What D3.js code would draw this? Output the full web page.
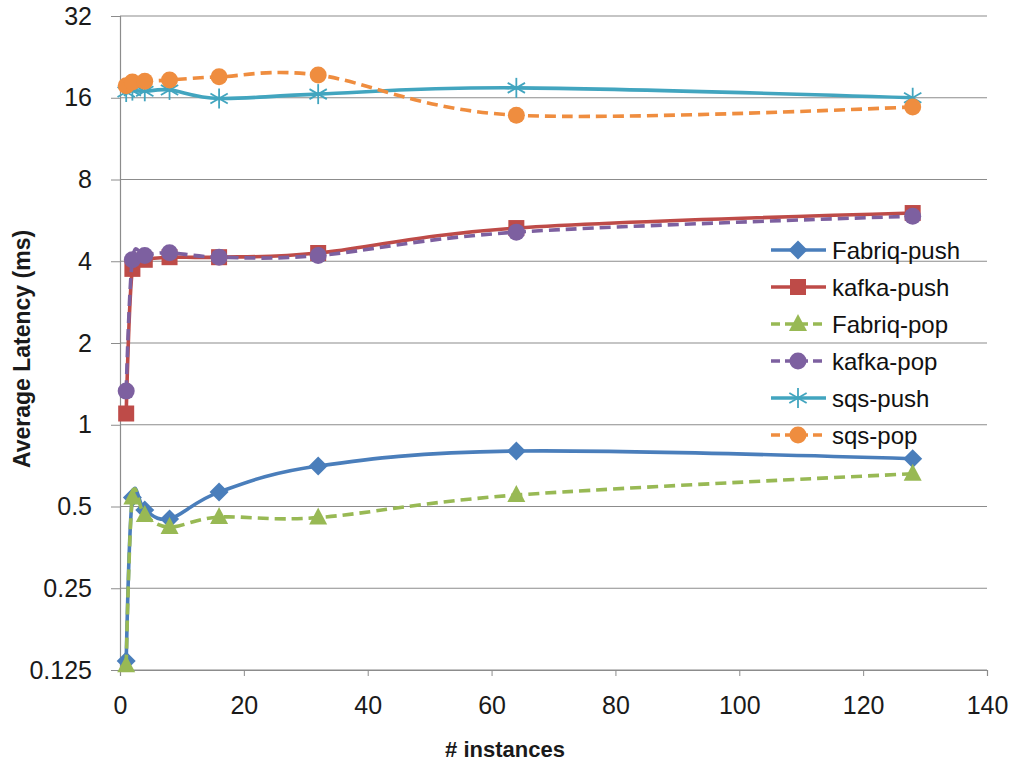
<!DOCTYPE html>
<html><head><meta charset="utf-8">
<script src="https://cdn.jsdelivr.net/npm/d3@7"></script>
<style>body{margin:0;background:#fff}svg{display:block}</style>
</head><body>
<svg id="c" width="1011" height="767"></svg>
<script>
const instances = [1, 2, 4, 8, 16, 32, 64, 128];
const fabriqPush = [0.135, 0.54, 0.485, 0.45, 0.565, 0.705, 0.80, 0.75];
const kafkaPush  = [1.1, 3.75, 4.05, 4.14, 4.14, 4.29, 5.3, 6.02];
const fabriqPop  = [0.13, 0.54, 0.465, 0.42, 0.457, 0.455, 0.551, 0.66];
const kafkaPop   = [1.33, 4.05, 4.2, 4.3, 4.14, 4.2, 5.12, 5.86];
const sqsPush    = [16.8, 17.0, 16.9, 17.1, 15.9, 16.5, 17.4, 16.0];
const sqsPop     = [17.7, 18.3, 18.4, 18.6, 19.1, 19.4, 13.8, 14.8];
const seriesNames = ["Fabriq-push", "kafka-push", "Fabriq-pop", "kafka-pop", "sqs-push", "sqs-pop"];
const xTicks = [0, 20, 40, 60, 80, 100, 120, 140];
const yTicks = [0.125, 0.25, 0.5, 1, 2, 4, 8, 16, 32];
const yTickLabels = ["0.125", "0.25", "0.5", "1", "2", "4", "8", "16", "32"];

const seriesValues = [fabriqPush, kafkaPush, fabriqPop, kafkaPop, sqsPush, sqsPop];
const colors = ["#4A7EBB", "#BE4B48", "#98B954", "#7D60A0", "#42A5BF", "#EF8D3F"];
const markers = ["diamond", "square", "triangle", "circle", "star", "circle"];
const dashed = [false, false, true, true, false, true];

const svg = d3.select("#c");
const L = 120, R = 987, T = 16, B = 670;
const x = d3.scaleLinear().domain([0, 140]).range([L, R]);
const y = d3.scaleLog().base(2).domain([0.125, 32]).range([B, T]);
const font = "'Liberation Sans',Arial,sans-serif";

// gridlines
svg.append("g").selectAll("line").data(yTicks).join("line")
  .attr("x1", L).attr("x2", R).attr("y1", d => y(d)).attr("y2", d => y(d))
  .attr("stroke", "#8c8c8c").attr("stroke-width", 1.2);

// y axis
const yAxis = d3.axisLeft(y).tickValues(yTicks).tickFormat((d, i) => yTickLabels[i]).tickSize(9).tickPadding(19);
const gy = svg.append("g").attr("transform", `translate(${L},0)`).call(yAxis);
gy.select(".domain").attr("stroke", "#8c8c8c").attr("stroke-width", 1.2);
gy.selectAll(".tick line").attr("stroke", "#8c8c8c");
gy.selectAll("text").attr("font-family", font).attr("font-size", 25).attr("fill", "#1a1a1a");

// x axis
const xAxis = d3.axisBottom(x).tickValues(xTicks).tickSize(6).tickPadding(20);
const gx = svg.append("g").attr("transform", `translate(0,${B})`).call(xAxis);
gx.select(".domain").attr("stroke", "#8c8c8c").attr("stroke-width", 1.2);
gx.selectAll(".tick line").attr("stroke", "#8c8c8c");
gx.selectAll("text").attr("font-family", font).attr("font-size", 25).attr("fill", "#1a1a1a");

// axis titles
svg.append("text").attr("x", 505).attr("y", 757).attr("text-anchor", "middle")
  .attr("font-family", font).attr("font-weight", "bold").attr("font-size", 22).attr("fill", "#1a1a1a")
  .text("# instances");
svg.append("text").attr("transform", "translate(30,349) rotate(-90)").attr("text-anchor", "middle")
  .attr("font-family", font).attr("font-weight", "bold").attr("font-size", 23).attr("fill", "#1a1a1a")
  .text("Average Latency (ms)");

function drawMarker(g, type, color, cx, cy, scale = 1) {
  const s = scale;
  if (type === "diamond") {
    g.append("path").attr("d", `M${cx},${cy - 9.5 * s}L${cx + 9.5 * s},${cy}L${cx},${cy + 9.5 * s}L${cx - 9.5 * s},${cy}Z`).attr("fill", color);
  } else if (type === "square") {
    g.append("rect").attr("x", cx - 8 * s).attr("y", cy - 8 * s).attr("width", 16 * s).attr("height", 16 * s).attr("fill", color);
  } else if (type === "triangle") {
    g.append("path").attr("d", `M${cx},${cy - 10 * s}L${cx + 9 * s},${cy + 7 * s}L${cx - 9 * s},${cy + 7 * s}Z`).attr("fill", color);
  } else if (type === "circle") {
    g.append("circle").attr("cx", cx).attr("cy", cy).attr("r", 8.5 * s).attr("fill", color);
  } else if (type === "star") {
    const r = 10 * s;
    [0, 60, 120].forEach(a => {
      const rad = a * Math.PI / 180;
      g.append("line").attr("x1", cx - r * Math.sin(rad)).attr("y1", cy - r * Math.cos(rad))
        .attr("x2", cx + r * Math.sin(rad)).attr("y2", cy + r * Math.cos(rad))
        .attr("stroke", color).attr("stroke-width", 1.8);
    });
  }
}

const line = d3.line().x(d => x(d[0])).y(d => y(d[1])).curve(d3.curveCatmullRom.alpha(0));
seriesValues.forEach((vals, i) => {
  const pts = instances.map((xi, j) => [xi, vals[j]]);
  const g = svg.append("g");
  g.append("path").attr("d", line(pts)).attr("fill", "none").attr("stroke", colors[i])
    .attr("stroke-width", 3.6).attr("stroke-dasharray", dashed[i] ? "11,6" : null);
  pts.forEach(p => drawMarker(g, markers[i], colors[i], x(p[0]), y(p[1])));
});

// legend
const lg = svg.append("g");
seriesNames.forEach((n, i) => {
  const ly = 250 + i * 37;
  lg.append("line").attr("x1", 771).attr("x2", 826).attr("y1", ly).attr("y2", ly)
    .attr("stroke", colors[i]).attr("stroke-width", 3.6).attr("stroke-dasharray", dashed[i] ? "9,5" : null);
  drawMarker(lg, markers[i], colors[i], 798, ly);
  lg.append("text").attr("x", 832).attr("y", ly + 9).attr("font-family", font)
    .attr("font-size", 24).attr("fill", "#111").text(n);
});
</script>
</body></html>
